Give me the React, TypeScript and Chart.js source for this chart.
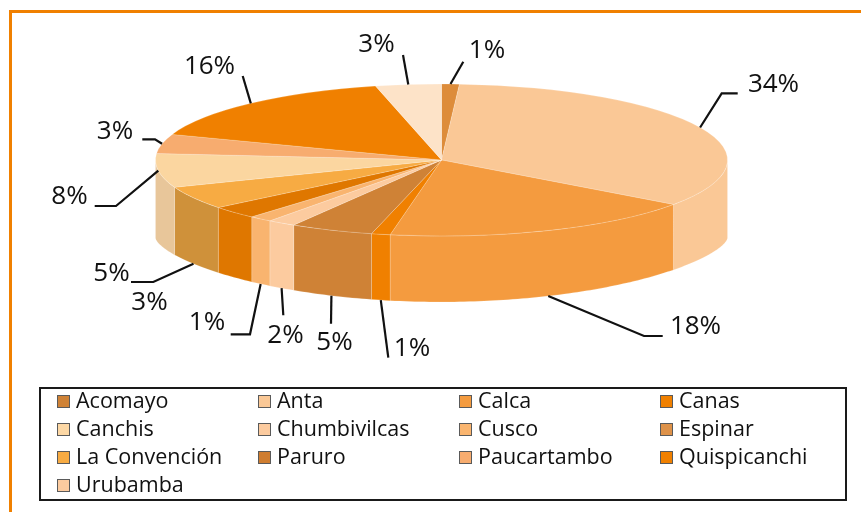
import React, { useEffect, useRef } from "react";
import { Chart, registerables } from "chart.js";

Chart.register(...registerables);

// Slices, clockwise from 12 o'clock
const sliceCategories = ["Espinar", "Anta", "Calca", "Canas", "Acomayo", "Chumbivilcas", "Cusco", "Paruro", "La Convención", "Canchis", "Paucartambo", "Quispicanchi", "Urubamba"];
const sliceValues = [1.0, 33.9, 17.9, 1.06, 4.7, 1.6, 1.3, 2.7, 4.9, 7.2, 4.1, 15.8, 3.7];
const sliceLabels = ["1%", "34%", "18%", "1%", "5%", "2%", "1%", "3%", "5%", "8%", "3%", "16%", "3%"];
const topColors = ["#DD8C3A", "#FAC896", "#F49B3F", "#F08000", "#CF8236", "#FCCB9F", "#F9B46F", "#DF7700", "#F7AB43", "#FBD6A0", "#F7AC6F", "#F08000", "#FDE3C8"];
const sideColors = ["#DD8C3A", "#FAC896", "#F49B3F", "#F08000", "#CF8236", "#FCCB9F", "#F9B46F", "#DF7700", "#CF913A", "#E8C69A", "#F7AC6F", "#F08000", "#FDE3C8"];

// Legend, in reading order
const legendCategories = ["Acomayo", "Anta", "Calca", "Canas", "Canchis", "Chumbivilcas", "Cusco", "Espinar", "La Convención", "Paruro", "Paucartambo", "Quispicanchi", "Urubamba"];
const legendColors = ["#CF8236", "#FAC896", "#F49B3F", "#F08000", "#FDD8A5", "#FCCB9F", "#FAB56F", "#DE9249", "#F7AB43", "#CF7D30", "#F7AC6F", "#F08000", "#FCCB9F"];

// Layout of the projected pie
const CX = 441.5, CY = 160, RX = 286, RY = 76;
const BOTTOM_CY = 238, BOTTOM_RY = 64, BOTTOM_POW = 1.3;

// Callouts per slice: rim the leader starts on, leader elbows, label centre
const leaderRim = ["top", "top", "bottom", "bottom", "bottom", "bottom", "bottom", "none", "bottom", "top", "top", "top", "top"];
const leaderElbows: number[][][] = [
  [[463.3, 61.7]],
  [[721.7, 93.3], [737.7, 93.3]],
  [[644, 336], [662.7, 336]],
  [[388.3, 357.7]],
  [[331, 323.7]],
  [[283.3, 315.3]],
  [[250, 334.3], [230.7, 334.3]],
  [],
  [[153.3, 282], [131, 282]],
  [[116, 206], [94.7, 206]],
  [[155, 139.3], [142.3, 139.3]],
  [[242.7, 76]],
  [[403, 55]],
];
const labelCentres = [
  [487, 51], [773.5, 85], [695.5, 327], [412, 349], [334.5, 343], [285.5, 336], [207, 323],
  [149.5, 303], [111.5, 274], [69.5, 197], [115, 132], [209.5, 67], [376.5, 45],
];

const legendColumns = [57, 258, 459, 660];
const FONT = '"Open Sans", sans-serif';

const rimTop = (t: number) => [CX + RX * Math.sin(t), CY - RY * Math.cos(t)];
const rimBottom = (t: number) => [
  CX + RX * Math.sin(t),
  BOTTOM_CY + BOTTOM_RY * Math.pow(Math.max(0, -Math.cos(t)), BOTTOM_POW),
];

const pie3d = {
  id: "pie3d",
  beforeDatasetsDraw(chart: any) {
    const ctx = chart.ctx;
    const arcs = chart.getDatasetMeta(0).data;
    // the wall of the cylinder: only the front half (t from 90 to 270 deg)
    arcs.forEach((el: any, i: number) => {
      const a = Math.max(el.startAngle + Math.PI / 2, Math.PI / 2);
      const b = Math.min(el.endAngle + Math.PI / 2, (3 * Math.PI) / 2);
      if (b <= a) return;
      const n = Math.max(4, Math.ceil(((b - a) * 180) / Math.PI));
      ctx.beginPath();
      for (let k = 0; k <= n; k++) {
        const p = rimTop(a + ((b - a) * k) / n);
        k ? ctx.lineTo(p[0], p[1]) : ctx.moveTo(p[0], p[1]);
      }
      for (let k = n; k >= 0; k--) {
        const p = rimBottom(a + ((b - a) * k) / n);
        ctx.lineTo(p[0], p[1]);
      }
      ctx.closePath();
      ctx.fillStyle = sideColors[i];
      ctx.fill();
      ctx.strokeStyle = "rgba(255,255,255,0.35)";
      ctx.lineWidth = 0.5;
      ctx.stroke();
    });
    // the lid: Chart.js draws its own arcs through this squash
    const el = arcs[0];
    const sx = RX / el.outerRadius;
    const sy = RY / el.outerRadius;
    ctx.save();
    ctx.transform(sx, 0, 0, sy, CX - el.x * sx, CY - el.y * sy);
  },
  afterDatasetsDraw(chart: any) {
    const ctx = chart.ctx;
    ctx.restore();
    const arcs = chart.getDatasetMeta(0).data;
    ctx.save();
    ctx.strokeStyle = "#111";
    ctx.lineWidth = 2.2;
    ctx.lineJoin = "miter";
    ctx.fillStyle = "#111";
    ctx.font = `26px ${FONT}`;
    ctx.textAlign = "center";
    ctx.textBaseline = "middle";
    arcs.forEach((a: any, i: number) => {
      const mid = (a.startAngle + a.endAngle) / 2 + Math.PI / 2;
      if (leaderRim[i] !== "none") {
        const start = leaderRim[i] === "top" ? rimTop(mid) : rimBottom(mid);
        ctx.beginPath();
        ctx.moveTo(start[0], start[1]);
        leaderElbows[i].forEach((p) => ctx.lineTo(p[0], p[1]));
        ctx.stroke();
      }
      ctx.fillText(sliceLabels[i], labelCentres[i][0], labelCentres[i][1]);
    });
    ctx.restore();
  },
};

export default function App() {
  const ref = useRef<HTMLCanvasElement>(null);
  useEffect(() => {
    const chart = new Chart(ref.current!, {
      type: "pie",
      data: {
        labels: sliceCategories,
        datasets: [
          {
            data: sliceValues,
            backgroundColor: topColors,
            borderColor: "rgba(255,255,255,0.45)",
            borderWidth: 0.6,
            clip: false,
          } as any,
        ],
      },
      options: {
        responsive: false,
        animation: false,
        events: [],
        rotation: 0,
        plugins: { legend: { display: false }, tooltip: { enabled: false } },
      },
      plugins: [pie3d],
    });
    return () => chart.destroy();
  }, []);

  return (
    <div style={{ position: "absolute", left: 0, top: 0, width: 861, height: 512, overflow: "hidden", background: "#fff" }}>
      <div style={{ position: "absolute", left: 9, top: 10, width: 900, height: 600, borderLeft: "3px solid #F08000", borderTop: "3px solid #F08000" }} />
      <canvas ref={ref} width={861} height={512} style={{ position: "absolute", left: 0, top: 0 }} />
      <div style={{ position: "absolute", left: 39, top: 387, width: 804, height: 110, border: "2.5px solid #1a1a1a", background: "#fff" }} />
      {legendCategories.map((name, i) => {
        const col = i % 4;
        const row = Math.floor(i / 4);
        const y = 402 + row * 28;
        return (
          <React.Fragment key={name}>
            <div style={{ position: "absolute", boxSizing: "border-box", left: legendColumns[col], top: y - 7, width: 13, height: 13, background: legendColors[i], border: "1.5px solid #5a5a5a" }} />
            <div style={{ position: "absolute", left: legendColumns[col] + 19, top: y - 17, height: 30, font: `21.5px/30px ${FONT}`, color: "#111", whiteSpace: "nowrap" }}>{name}</div>
          </React.Fragment>
        );
      })}
    </div>
  );
}
